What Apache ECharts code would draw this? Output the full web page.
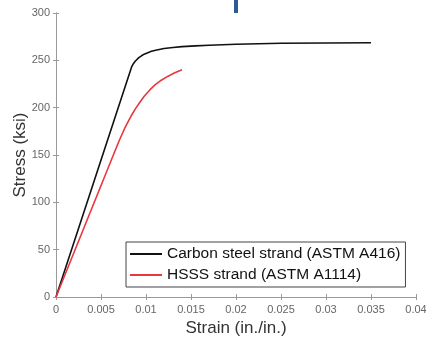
<!DOCTYPE html>
<html>
<head>
<meta charset="utf-8">
<script src="https://cdn.jsdelivr.net/npm/echarts@6/dist/echarts.min.js"></script>
<style>
  html, body { margin: 0; padding: 0; background: #fff; }
  #chart { width: 426px; height: 338px; }
</style>
</head>
<body>
<div id="chart"></div>
<script>
// strain (in./in.), stress (ksi)
const carbonStrain = [0, 0.0084, 0.0086, 0.0088, 0.009, 0.0092, 0.0095, 0.0098, 0.0102, 0.0106, 0.0112, 0.012, 0.013, 0.014, 0.0155, 0.017, 0.02, 0.025, 0.03, 0.035]
const carbonStress = [0, 243, 246.5, 249, 251, 252.8, 254.8, 256.5, 258, 259.5, 261, 262.5, 263.6, 264.5, 265.3, 266, 267, 268, 268.3, 268.5]
const hsssStrain = [0, 0.0068, 0.0072, 0.0076, 0.008, 0.0084, 0.0088, 0.0093, 0.0098, 0.0104, 0.011, 0.0117, 0.0124, 0.0132, 0.014]
const hsssStress = [0, 160, 169, 177.5, 185, 192, 198.5, 205.5, 212, 218.5, 224, 229, 233, 236.8, 240]
const seriesNames = ['Carbon steel strand (ASTM A416)', 'HSSS strand (ASTM A1114)']

const chart = echarts.init(document.getElementById('chart'))

const axisGray = '#9a9a9a'
const zip = (xs, ys) => xs.map((x, i) => [x, ys[i]])

const option = {
  animation: false,
  grid: { left: 56, right: 10, top: 13, bottom: 41, outerBoundsMode: 'none', containLabel: false },
  xAxis: [
    {
      type: 'value', min: 0, max: 0.04, interval: 0.005,
      name: 'Strain (in./in.)', nameLocation: 'middle', nameGap: 21,
      nameTextStyle: { fontSize: 17, color: '#333', fontFamily: 'Liberation Sans, Arial' },
      axisLine: { show: true, lineStyle: { color: axisGray } },
      axisTick: { show: true, inside: true, length: 3, lineStyle: { color: axisGray } },
      axisLabel: { fontSize: 11, color: '#666', margin: 7, fontFamily: 'Liberation Sans, Arial' },
      splitLine: { show: false }
    },
    {
      type: 'value', min: 0, max: 0.04, interval: 0.005, position: 'top',
      axisLine: { show: true, lineStyle: { color: axisGray } },
      axisTick: { show: true, inside: true, length: 3, lineStyle: { color: axisGray } },
      axisLabel: { show: false },
      splitLine: { show: false }
    }
  ],
  yAxis: [
    {
      type: 'value', min: 0, max: 300, interval: 50,
      name: 'Stress (ksi)', nameLocation: 'middle', nameGap: 27, nameMoveOverlap: false,
      nameTextStyle: { fontSize: 17, color: '#333', fontFamily: 'Liberation Sans, Arial' },
      axisLine: { show: true, lineStyle: { color: axisGray } },
      axisTick: { show: true, inside: true, length: 3, lineStyle: { color: axisGray } },
      axisLabel: { fontSize: 11, color: '#666', margin: 6, fontFamily: 'Liberation Sans, Arial' },
      splitLine: { show: false }
    },
    {
      type: 'value', min: 0, max: 300, interval: 50, position: 'right',
      axisLine: { show: true, lineStyle: { color: axisGray } },
      axisTick: { show: true, inside: true, length: 3, lineStyle: { color: axisGray } },
      axisLabel: { show: false },
      splitLine: { show: false }
    }
  ],
  legend: {
    orient: 'vertical',
    left: 126, top: 242,
    padding: [4, 5, 4, 4],
    itemGap: 5,
    itemWidth: 32,
    itemHeight: 2,
    icon: 'rect',
    borderColor: '#444',
    borderWidth: 1,
    backgroundColor: '#fff',
    textStyle: { fontSize: 15.5, color: '#111', fontFamily: 'Liberation Sans, Arial' },
    data: seriesNames
  },
  graphic: [
    { type: 'rect', left: 234, top: 0, shape: { width: 4, height: 13 }, style: { fill: '#2d5a92' } }
  ],
  series: [
    {
      name: seriesNames[0], type: 'line', data: zip(carbonStrain, carbonStress),
      symbol: 'none', smooth: false,
      lineStyle: { color: '#111', width: 1.6 }, itemStyle: { color: '#111' }
    },
    {
      name: seriesNames[1], type: 'line', data: zip(hsssStrain, hsssStress),
      symbol: 'none', smooth: false,
      lineStyle: { color: '#e8383d', width: 1.6 }, itemStyle: { color: '#e8383d' }
    }
  ]
}

chart.setOption(option)
</script>
</body>
</html>
